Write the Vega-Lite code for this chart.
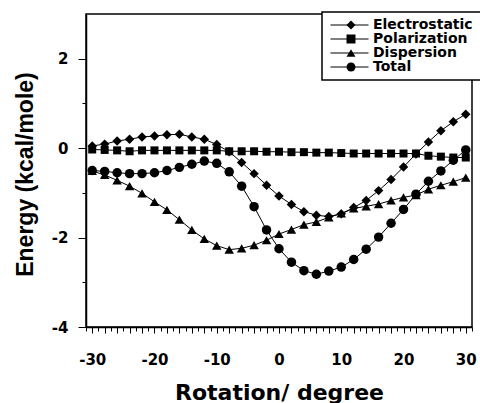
{
  "$schema": "https://vega.github.io/schema/vega-lite/v6.json",
  "width": 386,
  "height": 313,
  "autosize": {"type": "none"},
  "padding": {"left": 86, "top": 14, "right": 8, "bottom": 76},
  "background": "white",
  "config": {
    "view": {"stroke": "black", "strokeWidth": 1.5},
    "axis": {"grid": false, "domainColor": "black", "domainWidth": 1.5, "tickColor": "black", "tickWidth": 1, "labelColor": "black", "titleColor": "black"},
    "legend": {"strokeWidth": 1.5}
  },
  "datasets": {
    "energies": [
      {"angle": -30, "term": "Electrostatic", "energy": 0.05},
      {"angle": -28, "term": "Electrostatic", "energy": 0.09},
      {"angle": -26, "term": "Electrostatic", "energy": 0.16},
      {"angle": -24, "term": "Electrostatic", "energy": 0.2},
      {"angle": -22, "term": "Electrostatic", "energy": 0.25},
      {"angle": -20, "term": "Electrostatic", "energy": 0.27},
      {"angle": -18, "term": "Electrostatic", "energy": 0.3},
      {"angle": -16, "term": "Electrostatic", "energy": 0.31},
      {"angle": -14, "term": "Electrostatic", "energy": 0.25},
      {"angle": -12, "term": "Electrostatic", "energy": 0.2},
      {"angle": -10, "term": "Electrostatic", "energy": 0.08},
      {"angle": -8, "term": "Electrostatic", "energy": -0.08},
      {"angle": -6, "term": "Electrostatic", "energy": -0.32},
      {"angle": -4, "term": "Electrostatic", "energy": -0.57},
      {"angle": -2, "term": "Electrostatic", "energy": -0.83},
      {"angle": 0, "term": "Electrostatic", "energy": -1.07},
      {"angle": 2, "term": "Electrostatic", "energy": -1.26},
      {"angle": 4, "term": "Electrostatic", "energy": -1.42},
      {"angle": 6, "term": "Electrostatic", "energy": -1.5},
      {"angle": 8, "term": "Electrostatic", "energy": -1.53},
      {"angle": 10, "term": "Electrostatic", "energy": -1.47},
      {"angle": 12, "term": "Electrostatic", "energy": -1.33},
      {"angle": 14, "term": "Electrostatic", "energy": -1.17},
      {"angle": 16, "term": "Electrostatic", "energy": -0.95},
      {"angle": 18, "term": "Electrostatic", "energy": -0.7},
      {"angle": 20, "term": "Electrostatic", "energy": -0.42},
      {"angle": 22, "term": "Electrostatic", "energy": -0.13},
      {"angle": 24, "term": "Electrostatic", "energy": 0.14},
      {"angle": 26, "term": "Electrostatic", "energy": 0.39},
      {"angle": 28, "term": "Electrostatic", "energy": 0.59},
      {"angle": 30, "term": "Electrostatic", "energy": 0.76},
      {"angle": -30, "term": "Polarization", "energy": -0.03},
      {"angle": -28, "term": "Polarization", "energy": -0.04},
      {"angle": -26, "term": "Polarization", "energy": -0.05},
      {"angle": -24, "term": "Polarization", "energy": -0.07},
      {"angle": -22, "term": "Polarization", "energy": -0.05},
      {"angle": -20, "term": "Polarization", "energy": -0.05},
      {"angle": -18, "term": "Polarization", "energy": -0.05},
      {"angle": -16, "term": "Polarization", "energy": -0.05},
      {"angle": -14, "term": "Polarization", "energy": -0.05},
      {"angle": -12, "term": "Polarization", "energy": -0.05},
      {"angle": -10, "term": "Polarization", "energy": -0.05},
      {"angle": -8, "term": "Polarization", "energy": -0.07},
      {"angle": -6, "term": "Polarization", "energy": -0.07},
      {"angle": -4, "term": "Polarization", "energy": -0.07},
      {"angle": -2, "term": "Polarization", "energy": -0.08},
      {"angle": 0, "term": "Polarization", "energy": -0.08},
      {"angle": 2, "term": "Polarization", "energy": -0.09},
      {"angle": 4, "term": "Polarization", "energy": -0.09},
      {"angle": 6, "term": "Polarization", "energy": -0.1},
      {"angle": 8, "term": "Polarization", "energy": -0.1},
      {"angle": 10, "term": "Polarization", "energy": -0.11},
      {"angle": 12, "term": "Polarization", "energy": -0.12},
      {"angle": 14, "term": "Polarization", "energy": -0.12},
      {"angle": 16, "term": "Polarization", "energy": -0.12},
      {"angle": 18, "term": "Polarization", "energy": -0.12},
      {"angle": 20, "term": "Polarization", "energy": -0.12},
      {"angle": 22, "term": "Polarization", "energy": -0.12},
      {"angle": 24, "term": "Polarization", "energy": -0.17},
      {"angle": 26, "term": "Polarization", "energy": -0.19},
      {"angle": 28, "term": "Polarization", "energy": -0.21},
      {"angle": 30, "term": "Polarization", "energy": -0.21},
      {"angle": -30, "term": "Dispersion", "energy": -0.51},
      {"angle": -28, "term": "Dispersion", "energy": -0.6},
      {"angle": -26, "term": "Dispersion", "energy": -0.72},
      {"angle": -24, "term": "Dispersion", "energy": -0.85},
      {"angle": -22, "term": "Dispersion", "energy": -1.01},
      {"angle": -20, "term": "Dispersion", "energy": -1.2},
      {"angle": -18, "term": "Dispersion", "energy": -1.38},
      {"angle": -16, "term": "Dispersion", "energy": -1.6},
      {"angle": -14, "term": "Dispersion", "energy": -1.83},
      {"angle": -12, "term": "Dispersion", "energy": -2.03},
      {"angle": -10, "term": "Dispersion", "energy": -2.18},
      {"angle": -8, "term": "Dispersion", "energy": -2.27},
      {"angle": -6, "term": "Dispersion", "energy": -2.24},
      {"angle": -4, "term": "Dispersion", "energy": -2.17},
      {"angle": -2, "term": "Dispersion", "energy": -2.06},
      {"angle": 0, "term": "Dispersion", "energy": -1.92},
      {"angle": 2, "term": "Dispersion", "energy": -1.82},
      {"angle": 4, "term": "Dispersion", "energy": -1.71},
      {"angle": 6, "term": "Dispersion", "energy": -1.65},
      {"angle": 8, "term": "Dispersion", "energy": -1.55},
      {"angle": 10, "term": "Dispersion", "energy": -1.46},
      {"angle": 12, "term": "Dispersion", "energy": -1.35},
      {"angle": 14, "term": "Dispersion", "energy": -1.3},
      {"angle": 16, "term": "Dispersion", "energy": -1.25},
      {"angle": 18, "term": "Dispersion", "energy": -1.17},
      {"angle": 20, "term": "Dispersion", "energy": -1.1},
      {"angle": 22, "term": "Dispersion", "energy": -1.05},
      {"angle": 24, "term": "Dispersion", "energy": -0.92},
      {"angle": 26, "term": "Dispersion", "energy": -0.83},
      {"angle": 28, "term": "Dispersion", "energy": -0.75},
      {"angle": 30, "term": "Dispersion", "energy": -0.66},
      {"angle": -30, "term": "Total", "energy": -0.5},
      {"angle": -28, "term": "Total", "energy": -0.52},
      {"angle": -26, "term": "Total", "energy": -0.55},
      {"angle": -24, "term": "Total", "energy": -0.57},
      {"angle": -22, "term": "Total", "energy": -0.57},
      {"angle": -20, "term": "Total", "energy": -0.55},
      {"angle": -18, "term": "Total", "energy": -0.5},
      {"angle": -16, "term": "Total", "energy": -0.43},
      {"angle": -14, "term": "Total", "energy": -0.36},
      {"angle": -12, "term": "Total", "energy": -0.29},
      {"angle": -10, "term": "Total", "energy": -0.34},
      {"angle": -8, "term": "Total", "energy": -0.53},
      {"angle": -6, "term": "Total", "energy": -0.85},
      {"angle": -4, "term": "Total", "energy": -1.31},
      {"angle": -2, "term": "Total", "energy": -1.83},
      {"angle": 0, "term": "Total", "energy": -2.25},
      {"angle": 2, "term": "Total", "energy": -2.55},
      {"angle": 4, "term": "Total", "energy": -2.74},
      {"angle": 6, "term": "Total", "energy": -2.82},
      {"angle": 8, "term": "Total", "energy": -2.75},
      {"angle": 10, "term": "Total", "energy": -2.66},
      {"angle": 12, "term": "Total", "energy": -2.49},
      {"angle": 14, "term": "Total", "energy": -2.26},
      {"angle": 16, "term": "Total", "energy": -1.99},
      {"angle": 18, "term": "Total", "energy": -1.68},
      {"angle": 20, "term": "Total", "energy": -1.37},
      {"angle": 22, "term": "Total", "energy": -1.03},
      {"angle": 24, "term": "Total", "energy": -0.74},
      {"angle": 26, "term": "Total", "energy": -0.51},
      {"angle": 28, "term": "Total", "energy": -0.27},
      {"angle": 30, "term": "Total", "energy": -0.04}
    ]
  },
  "data": {"name": "energies"},
  "encoding": {
    "x": {
      "field": "angle", "type": "quantitative",
      "scale": {"domain": [-31, 31], "nice": false, "zero": false},
      "axis": {
        "title": "Rotation/ degree",
        "titleFont": "DejaVu Sans", "titleFontSize": 22, "titleFontWeight": "bold",
        "titleAnchor": "middle", "titleBaseline": "alphabetic", "titleY": 72,
        "values": [-31,-30,-29,-28,-27,-26,-25,-24,-23,-22,-21,-20,-19,-18,-17,-16,-15,-14,-13,-12,-11,-10,-9,-8,-7,-6,-5,-4,-3,-2,-1,0,1,2,3,4,5,6,7,8,9,10,11,12,13,14,15,16,17,18,19,20,21,22,23,24,25,26,27,28,29,30,31],
        "labelExpr": "datum.value % 10 === 0 ? '' + datum.value : ''",
        "labelFont": "DejaVu Sans", "labelFontSize": 15, "labelFontWeight": "bold",
        "labelBaseline": "alphabetic", "labelPadding": 31,
        "labelOverlap": false, "labelFlush": false, "labelBound": false,
        "tickSize": {"condition": {"test": "datum.value % 2 === 0", "value": 6}, "value": 4}
      }
    },
    "y": {
      "field": "energy", "type": "quantitative",
      "scale": {"domain": [-4, 3], "nice": false, "zero": false},
      "axis": {
        "title": "Energy (kcal/mole)",
        "titleFont": "Liberation Sans", "titleFontSize": 23, "titleFontWeight": "bold",
        "titleAngle": -90, "titleAlign": "center", "titleBaseline": "alphabetic",
        "titleX": -54, "titleY": 160,
        "values": [-4, -3, -2, -1, 0, 1, 2],
        "labelExpr": "datum.value % 2 === 0 ? '' + datum.value : ''",
        "labelFont": "DejaVu Sans", "labelFontSize": 15, "labelFontWeight": "bold",
        "labelPadding": 10, "labelOverlap": false, "labelFlush": false,
        "tickSize": {"condition": {"test": "datum.value % 2 === 0", "value": 8}, "value": 4}
      }
    }
  },
  "layer": [
    {
      "mark": {"type": "line", "strokeWidth": 1},
      "encoding": {
        "color": {
          "field": "term", "type": "nominal",
          "scale": {"domain": ["Electrostatic", "Polarization", "Dispersion", "Total"], "range": ["black", "black", "black", "black"]},
          "legend": {
            "title": null, "orient": "none", "legendX": 236, "legendY": -2, "zindex": 0,
            "fillColor": "white", "strokeColor": "black", "padding": 6,
            "labelExpr": "''", "labelFontSize": 14,
            "symbolType": "stroke", "symbolSize": 1444, "symbolStrokeWidth": 1, "symbolStrokeColor": "black",
            "symbolOffset": 2, "labelOffset": 120, "rowPadding": 0, "clipHeight": 14
          }
        }
      }
    },
    {
      "mark": {"type": "point", "filled": true, "color": "black", "opacity": 1},
      "encoding": {
        "shape": {
          "field": "term", "type": "nominal",
          "sort": ["Electrostatic", "Polarization", "Dispersion", "Total"],
          "scale": {"range": ["diamond", "square", "triangle-up", "circle"]},
          "legend": {
            "title": null, "orient": "none", "legendX": 236, "legendY": -2, "zindex": 1,
            "fillColor": "transparent", "strokeColor": "transparent", "padding": 6,
            "labelFont": "DejaVu Sans", "labelFontSize": 14, "labelFontWeight": "bold", "labelColor": "black",
            "symbolSize": 80, "symbolOffset": 16, "labelOffset": 15, "rowPadding": 0, "clipHeight": 14,
            "symbolFillColor": "black", "symbolStrokeColor": "black", "symbolStrokeWidth": 0, "symbolOpacity": 1
          }
        },
        "size": {"condition": {"test": "datum.term === 'Polarization'", "value": 64}, "value": 90}
      }
    }
  ]
}
